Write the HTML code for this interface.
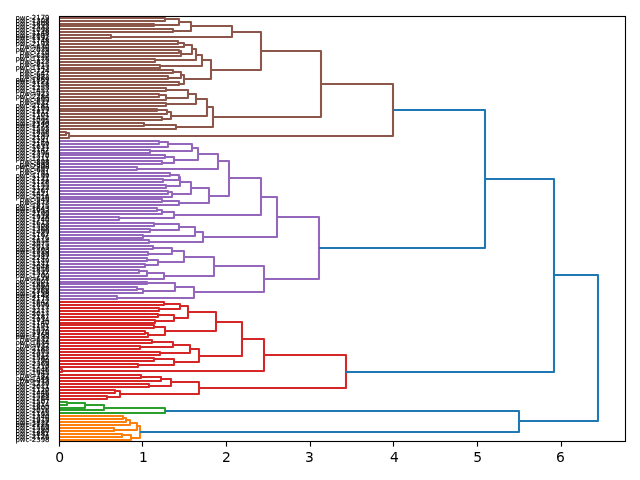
<!DOCTYPE html>
<html><head><meta charset="utf-8"><title>Dendrogram</title>
<style>html,body{margin:0;padding:0;background:#fff}svg{display:block}</style></head>
<body>
<svg width="640" height="480" viewBox="0 0 640 480">
<rect width="640" height="480" fill="#fff"/>
<clipPath id="c"><rect x="59.5" y="16.3" width="566.1" height="425.1"/></clipPath>
<g font-family="'DejaVu Sans', 'Liberation Sans', sans-serif" font-size="6.94" text-anchor="end" fill="#000" stroke="#000" stroke-width="0.14">
<text x="49.5" y="20">pwc-2179</text>
<text x="49.5" y="23">pwc-1308</text>
<text x="49.5" y="26">pwc-1808</text>
<text x="49.5" y="29">pwc-2333</text>
<text x="49.5" y="32">pwc-1098</text>
<text x="49.5" y="35">pwc-1148</text>
<text x="49.5" y="38">pwc-2097</text>
<text x="49.5" y="40">pwc-1192</text>
<text x="49.5" y="43">pwc-1748</text>
<text x="49.5" y="46">pwc-2193</text>
<text x="49.5" y="49">pwc-630</text>
<text x="49.5" y="52">pwc-2039</text>
<text x="49.5" y="55">pwc-710</text>
<text x="49.5" y="58">pwc-620</text>
<text x="49.5" y="61">pwc-1176</text>
<text x="49.5" y="64">pwc-823</text>
<text x="49.5" y="67">pwc-815</text>
<text x="49.5" y="70">pwc-1143</text>
<text x="49.5" y="73">pwc-724</text>
<text x="49.5" y="76">pwc-647</text>
<text x="49.5" y="79">pwc-883</text>
<text x="49.5" y="82">pwc-1869</text>
<text x="49.5" y="84">pwc-1121</text>
<text x="49.5" y="87">pwc-2158</text>
<text x="49.5" y="90">pwc-1253</text>
<text x="49.5" y="93">pwc-1457</text>
<text x="49.5" y="96">pwc-923</text>
<text x="49.5" y="99">pwc-2284</text>
<text x="49.5" y="102">pwc-899</text>
<text x="49.5" y="105">pwc-632</text>
<text x="49.5" y="108">pwc-2181</text>
<text x="49.5" y="111">pwc-2199</text>
<text x="49.5" y="114">pwc-1812</text>
<text x="49.5" y="117">pwc-1101</text>
<text x="49.5" y="120">pwc-1452</text>
<text x="49.5" y="123">pwc-1095</text>
<text x="49.5" y="126">pwc-2140</text>
<text x="49.5" y="128">pwc-1272</text>
<text x="49.5" y="131">pwc-1593</text>
<text x="49.5" y="134">pwc-1858</text>
<text x="49.5" y="137">pwc-1295</text>
<text x="49.5" y="140">pwc-2107</text>
<text x="49.5" y="143">pwc-1241</text>
<text x="49.5" y="146">pwc-2169</text>
<text x="49.5" y="149">pwc-1631</text>
<text x="49.5" y="152">pwc-2147</text>
<text x="49.5" y="155">pwc-2396</text>
<text x="49.5" y="158">pwc-1370</text>
<text x="49.5" y="161">pwc-1211</text>
<text x="49.5" y="164">pwc-898</text>
<text x="49.5" y="167">pwc-893</text>
<text x="49.5" y="169">pwc-2308</text>
<text x="49.5" y="172">pwc-697</text>
<text x="49.5" y="175">pwc-791</text>
<text x="49.5" y="178">pwc-1199</text>
<text x="49.5" y="181">pwc-2121</text>
<text x="49.5" y="184">pwc-1128</text>
<text x="49.5" y="187">pwc-2155</text>
<text x="49.5" y="190">pwc-1122</text>
<text x="49.5" y="193">pwc-2267</text>
<text x="49.5" y="196">pwc-1421</text>
<text x="49.5" y="199">pwc-2016</text>
<text x="49.5" y="202">pwc-949</text>
<text x="49.5" y="205">pwc-873</text>
<text x="49.5" y="208">pwc-1875</text>
<text x="49.5" y="211">pwc-1643</text>
<text x="49.5" y="213">pwc-1953</text>
<text x="49.5" y="216">pwc-2199</text>
<text x="49.5" y="219">pwc-1928</text>
<text x="49.5" y="222">pwc-1740</text>
<text x="49.5" y="225">pwc-1613</text>
<text x="49.5" y="228">pwc-1508</text>
<text x="49.5" y="231">pwc-1368</text>
<text x="49.5" y="234">pwc-1499</text>
<text x="49.5" y="237">pwc-1167</text>
<text x="49.5" y="240">pwc-2176</text>
<text x="49.5" y="243">pwc-1614</text>
<text x="49.5" y="246">pwc-2075</text>
<text x="49.5" y="249">pwc-2013</text>
<text x="49.5" y="252">pwc-1703</text>
<text x="49.5" y="254">pwc-1919</text>
<text x="49.5" y="257">pwc-1589</text>
<text x="49.5" y="260">pwc-2247</text>
<text x="49.5" y="263">pwc-1149</text>
<text x="49.5" y="266">pwc-1241</text>
<text x="49.5" y="269">pwc-2048</text>
<text x="49.5" y="272">pwc-1856</text>
<text x="49.5" y="275">pwc-1337</text>
<text x="49.5" y="278">pwc-1700</text>
<text x="49.5" y="281">pwc-678</text>
<text x="49.5" y="284">pwc-2001</text>
<text x="49.5" y="287">pwc-1863</text>
<text x="49.5" y="290">pwc-1080</text>
<text x="49.5" y="293">pwc-2368</text>
<text x="49.5" y="296">pwc-1158</text>
<text x="49.5" y="298">pwc-2142</text>
<text x="49.5" y="301">pwc-2173</text>
<text x="49.5" y="304">pwc-1642</text>
<text x="49.5" y="307">pwc-1696</text>
<text x="49.5" y="310">pwc-1717</text>
<text x="49.5" y="313">pwc-2217</text>
<text x="49.5" y="316">pwc-2017</text>
<text x="49.5" y="319">pwc-2187</text>
<text x="49.5" y="322">pwc-1934</text>
<text x="49.5" y="325">pwc-1140</text>
<text x="49.5" y="328">pwc-1191</text>
<text x="49.5" y="331">pwc-1552</text>
<text x="49.5" y="334">pwc-1970</text>
<text x="49.5" y="337">pwc-2360</text>
<text x="49.5" y="339">pwc-1133</text>
<text x="49.5" y="342">pwc-632</text>
<text x="49.5" y="345">pwc-1634</text>
<text x="49.5" y="348">pwc-932</text>
<text x="49.5" y="351">pwc-2183</text>
<text x="49.5" y="354">pwc-2395</text>
<text x="49.5" y="357">pwc-1912</text>
<text x="49.5" y="360">pwc-1582</text>
<text x="49.5" y="363">pwc-1790</text>
<text x="49.5" y="366">pwc-2369</text>
<text x="49.5" y="369">pwc-1710</text>
<text x="49.5" y="372">pwc-1046</text>
<text x="49.5" y="375">pwc-1945</text>
<text x="49.5" y="378">pwc-782</text>
<text x="49.5" y="381">pwc-1344</text>
<text x="49.5" y="383">pwc-913</text>
<text x="49.5" y="386">pwc-1239</text>
<text x="49.5" y="389">pwc-2011</text>
<text x="49.5" y="392">pwc-1120</text>
<text x="49.5" y="395">pwc-1446</text>
<text x="49.5" y="398">pwc-1588</text>
<text x="49.5" y="401">pwc-1264</text>
<text x="49.5" y="404">pwc-1507</text>
<text x="49.5" y="407">pwc-1814</text>
<text x="49.5" y="410">pwc-1800</text>
<text x="49.5" y="413">pwc-2016</text>
<text x="49.5" y="416">pwc-1165</text>
<text x="49.5" y="419">pwc-1340</text>
<text x="49.5" y="422">pwc-1919</text>
<text x="49.5" y="425">pwc-1822</text>
<text x="49.5" y="427">pwc-2125</text>
<text x="49.5" y="430">pwc-1569</text>
<text x="49.5" y="433">pwc-1280</text>
<text x="49.5" y="436">pwc-1881</text>
<text x="49.5" y="439">pwc-2126</text>
<text x="49.5" y="442">pwc-2398</text>
</g>
<g clip-path="url(#c)" fill="none" stroke-width="2.083" stroke-linejoin="round">
<path stroke="#ff7f0e" d="M59.5 416 H123 V419 H59.5M123 418 H126 V422 H59.5M126 420 H130 V425 H59.5M59.5 428 H114 V431 H59.5M130 423 H137 V430 H114M59.5 434 H122 V437 H59.5M122 435 H131 V440 H59.5M137 426 H140 V438 H131"/>
<path stroke="#2ca02c" d="M59.5 402 H67 V405 H59.5M67 403 H85 V408 H59.5M85 405 H104 V410 H59.5M104 408 H165 V413 H59.5"/>
<path stroke="#d62728" d="M59.5 302 H164 V305 H59.5M59.5 308 H159 V311 H59.5M164 304 H180 V309 H159M59.5 314 H158 V317 H59.5M59.5 320 H155 V323 H59.5M158 315 H174 V321 H155M180 306 H188 V318 H174M59.5 325 H154 V328 H59.5M59.5 331 H145 V334 H59.5M145 333 H148 V337 H59.5M154 327 H165 V335 H148M188 312 H216 V331 H165M59.5 340 H152 V343 H59.5M59.5 346 H140 V349 H59.5M152 342 H173 V347 H140M59.5 352 H160 V355 H59.5M173 345 H190 V353 H160M59.5 358 H154 V361 H59.5M59.5 364 H138 V367 H59.5M154 359 H174 V365 H138M190 349 H199 V362 H174M216 322 H242 V356 H199M59.5 369 H62 V372 H59.5M242 339 H264 V371 H62M59.5 375 H141 V378 H59.5M141 377 H161 V381 H59.5M59.5 384 H149 V387 H59.5M161 379 H171 V386 H149M59.5 390 H115 V393 H59.5M59.5 396 H107 V399 H59.5M115 391 H120 V397 H107M171 382 H199 V394 H120M264 355 H346 V388 H199"/>
<path stroke="#9467bd" d="M59.5 141 H159 V144 H59.5M159 142 H168 V147 H59.5M59.5 150 H150 V153 H59.5M168 144 H192 V151 H150M59.5 155 H165 V158 H59.5M59.5 161 H162 V164 H59.5M165 157 H174 V163 H162M192 148 H198 V160 H174M59.5 167 H137 V170 H59.5M198 154 H218 V169 H137M59.5 173 H170 V176 H59.5M59.5 179 H163 V182 H59.5M170 175 H179 V180 H163M59.5 185 H166 V188 H59.5M179 177 H180 V186 H166M59.5 191 H168 V194 H59.5M168 192 H172 V197 H59.5M180 182 H191 V194 H172M59.5 199 H162 V202 H59.5M162 201 H179 V205 H59.5M191 188 H209 V203 H179M218 161 H229 V196 H209M59.5 208 H157 V211 H59.5M157 210 H162 V214 H59.5M59.5 217 H119 V220 H59.5M162 212 H174 V218 H119M229 178 H261 V215 H174M59.5 223 H154 V226 H59.5M59.5 229 H150 V232 H59.5M154 224 H179 V230 H150M59.5 235 H143 V238 H59.5M179 227 H195 V236 H143M59.5 240 H149 V243 H59.5M195 232 H203 V242 H149M261 197 H277 V237 H203M59.5 246 H153 V249 H59.5M59.5 252 H148 V255 H59.5M153 248 H172 V254 H148M59.5 258 H147 V261 H59.5M59.5 264 H145 V267 H59.5M147 260 H158 V265 H145M172 251 H184 V262 H158M59.5 270 H139 V273 H59.5M139 271 H147 V276 H59.5M147 273 H164 V279 H59.5M184 257 H214 V276 H164M59.5 282 H147 V284 H59.5M59.5 287 H137 V290 H59.5M137 289 H143 V293 H59.5M147 283 H175 V291 H143M59.5 296 H117 V299 H59.5M175 287 H194 V298 H117M214 266 H264 V292 H194M277 217 H319 V279 H264"/>
<path stroke="#8c564b" d="M59.5 18 H165 V21 H59.5M59.5 24 H154 V26 H59.5M165 19 H179 V25 H154M59.5 29 H173 V32 H59.5M179 22 H191 V31 H173M59.5 35 H111 V38 H59.5M191 26 H232 V37 H111M59.5 41 H178 V44 H59.5M178 43 H184 V47 H59.5M59.5 50 H179 V53 H59.5M179 51 H181 V56 H59.5M184 45 H192 V54 H181M59.5 59 H155 V62 H59.5M192 49 H196 V60 H155M59.5 65 H160 V68 H59.5M196 55 H202 V66 H160M59.5 70 H173 V73 H59.5M59.5 76 H168 V79 H59.5M173 72 H181 V78 H168M59.5 82 H179 V85 H59.5M181 75 H184 V84 H179M202 60 H211 V79 H184M232 32 H261 V70 H211M59.5 88 H166 V91 H59.5M59.5 94 H159 V97 H59.5M159 95 H166 V100 H59.5M166 90 H188 V98 H166M59.5 103 H166 V106 H59.5M188 94 H196 V104 H166M59.5 109 H157 V111 H59.5M157 110 H167 V114 H59.5M59.5 117 H162 V120 H59.5M167 112 H171 V119 H162M196 99 H207 V116 H171M59.5 123 H144 V126 H59.5M144 125 H176 V129 H59.5M207 107 H213 V127 H176M261 51 H321 V117 H213M59.5 132 H66 V135 H59.5M66 133 H69 V138 H59.5M321 84 H393 V136 H69"/>
<path stroke="#1f77b4" d="M393 110 H485 V248 H319M485 179 H554 V372 H346M165 411 H519 V432 H140M554 275 H598 V421 H519"/>
</g>
<rect x="59.5" y="16.5" width="566" height="425" fill="none" stroke="#000" stroke-width="1.11"/>
<g stroke="#000" stroke-width="1.11">
<line x1="59.50" y1="441.5" x2="59.50" y2="446.6"/>
<line x1="142.50" y1="441.5" x2="142.50" y2="446.6"/>
<line x1="226.50" y1="441.5" x2="226.50" y2="446.6"/>
<line x1="310.50" y1="441.5" x2="310.50" y2="446.6"/>
<line x1="393.50" y1="441.5" x2="393.50" y2="446.6"/>
<line x1="477.50" y1="441.5" x2="477.50" y2="446.6"/>
<line x1="561.50" y1="441.5" x2="561.50" y2="446.6"/>
</g>
<g font-family="'DejaVu Sans', 'Liberation Sans', sans-serif" font-size="13.89" text-anchor="middle" fill="#000">
<text x="59.60" y="461.8">0</text>
<text x="143.50" y="461.8">1</text>
<text x="226.40" y="461.8">2</text>
<text x="309.50" y="461.8">3</text>
<text x="394.30" y="461.8">4</text>
<text x="477.55" y="461.8">5</text>
<text x="560.40" y="461.8">6</text>
</g>
</svg>
</body></html>
